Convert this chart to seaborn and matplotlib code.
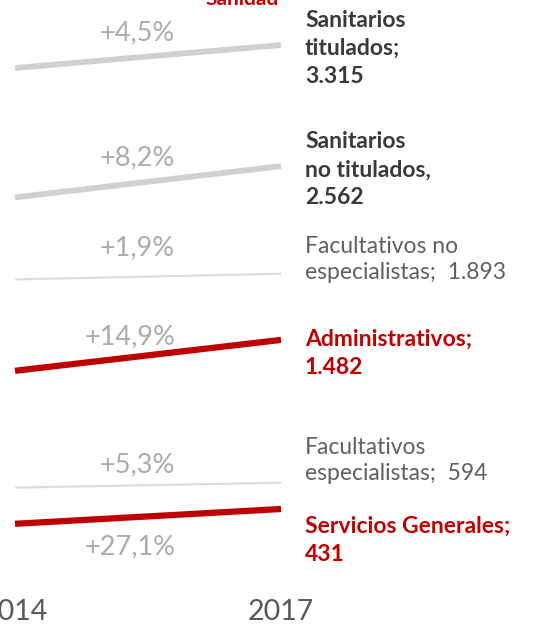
import numpy as np
import pandas as pd
import matplotlib
matplotlib.use("Agg")
import matplotlib.pyplot as plt
import matplotlib.transforms as mtransforms
import seaborn as sns

# data (2017 values and growth since 2014)
categories = ["Sanitarios titulados", "Sanitarios no titulados",
              "Facultativos no especialistas", "Administrativos",
              "Facultativos especialistas", "Servicios Generales"]
labels = ["Sanitarios\ntitulados;\n3.315", "Sanitarios\nno titulados,\n2.562",
          "Facultativos no\nespecialistas;  1.893", "Administrativos;\n1.482",
          "Facultativos\nespecialistas;  594", "Servicios Generales;\n431"]
pct_labels = ["+4,5%", "+8,2%", "+1,9%", "+14,9%", "+5,3%", "+27,1%"]
years = [2014, 2017]
values_2017 = [3315, 2562, 1893, 1482, 594, 431]
values_2014 = [3172, 2368, 1858, 1290, 564, 339]

# styles
line_colors = ["#d0d0d0", "#d0d0d0", "#dcdcdc", "#c00000", "#dcdcdc", "#c00000"]
line_widths = [4.2, 4.2, 1.6, 4.5, 1.6, 4.5]
label_colors = ["#3a3a3a", "#3a3a3a", "#606060", "#c00000", "#606060", "#c00000"]
label_weights = ["bold", "bold", "normal", "bold", "normal", "bold"]
label_dy = [35, 35, 38, 11, 46, -7]          # pixels, top of label above 2017 point
label_ls = [1.42, 1.42, 1.32, 1.42, 1.32, 1.42]
pct_dy = [25, 25, 29, 21, 21, -29]           # pixels, centre of % label vs line
pct_x = [2015.376, 2015.376, 2015.376, 2015.30, 2015.376, 2015.30]

df = pd.DataFrame({
    "category": np.repeat(categories, 2),
    "year": years * len(categories),
    "value": [v for pair in zip(values_2014, values_2017) for v in pair],
})

sns.set_style("white")
plt.rcParams["font.family"] = ["Lato", "DejaVu Sans"]

fig = plt.figure(figsize=(5.46, 6.28), dpi=100)
ax = fig.add_axes([0, 0, 1, 1])

for i, cat in enumerate(categories):
    sub = df[df["category"] == cat]
    sns.lineplot(data=sub, x="year", y="value", ax=ax, color=line_colors[i],
                 linewidth=line_widths[i], solid_capstyle="butt", legend=False)
    ax.annotate(labels[i], xy=(2017, values_2017[i]), xytext=(24, label_dy[i]),
                textcoords="offset pixels", ha="left", va="top",
                fontsize=16.5, fontweight=label_weights[i], color=label_colors[i],
                linespacing=label_ls[i])
    mid = np.interp(pct_x[i], years, [values_2014[i], values_2017[i]])
    ax.annotate(pct_labels[i], xy=(pct_x[i], mid), xytext=(0, pct_dy[i]),
                textcoords="offset pixels", ha="center", va="center",
                fontsize=19.5, fontweight="normal", color="#ababab")

# x: 2014 at 15px, 2017 at 281px ; y: linear value scale
px_per_year = 266 / 3
ax.set_xlim(2014 - 15 / px_per_year, 2014 + (546 - 15) / px_per_year)
px_per_unit = 464 / (3315 - 431)
ax.set_ylim(3315 - (628 - 45) / px_per_unit, 3315 + 45 / px_per_unit)
ax.axis("off")

trans = mtransforms.blended_transform_factory(ax.transData, ax.transAxes)
for yr in years:
    ax.text(yr, 1 - 612 / 628, str(yr), transform=trans, ha="center", va="center",
            fontsize=20.5, fontweight="normal", color="#595959")

fig.text(242 / 546, 1 - 5 / 628, "Sanidad", ha="center", va="baseline",
         fontsize=15, fontweight="bold", color="#c00000")

fig.savefig("out.png", dpi=100)
